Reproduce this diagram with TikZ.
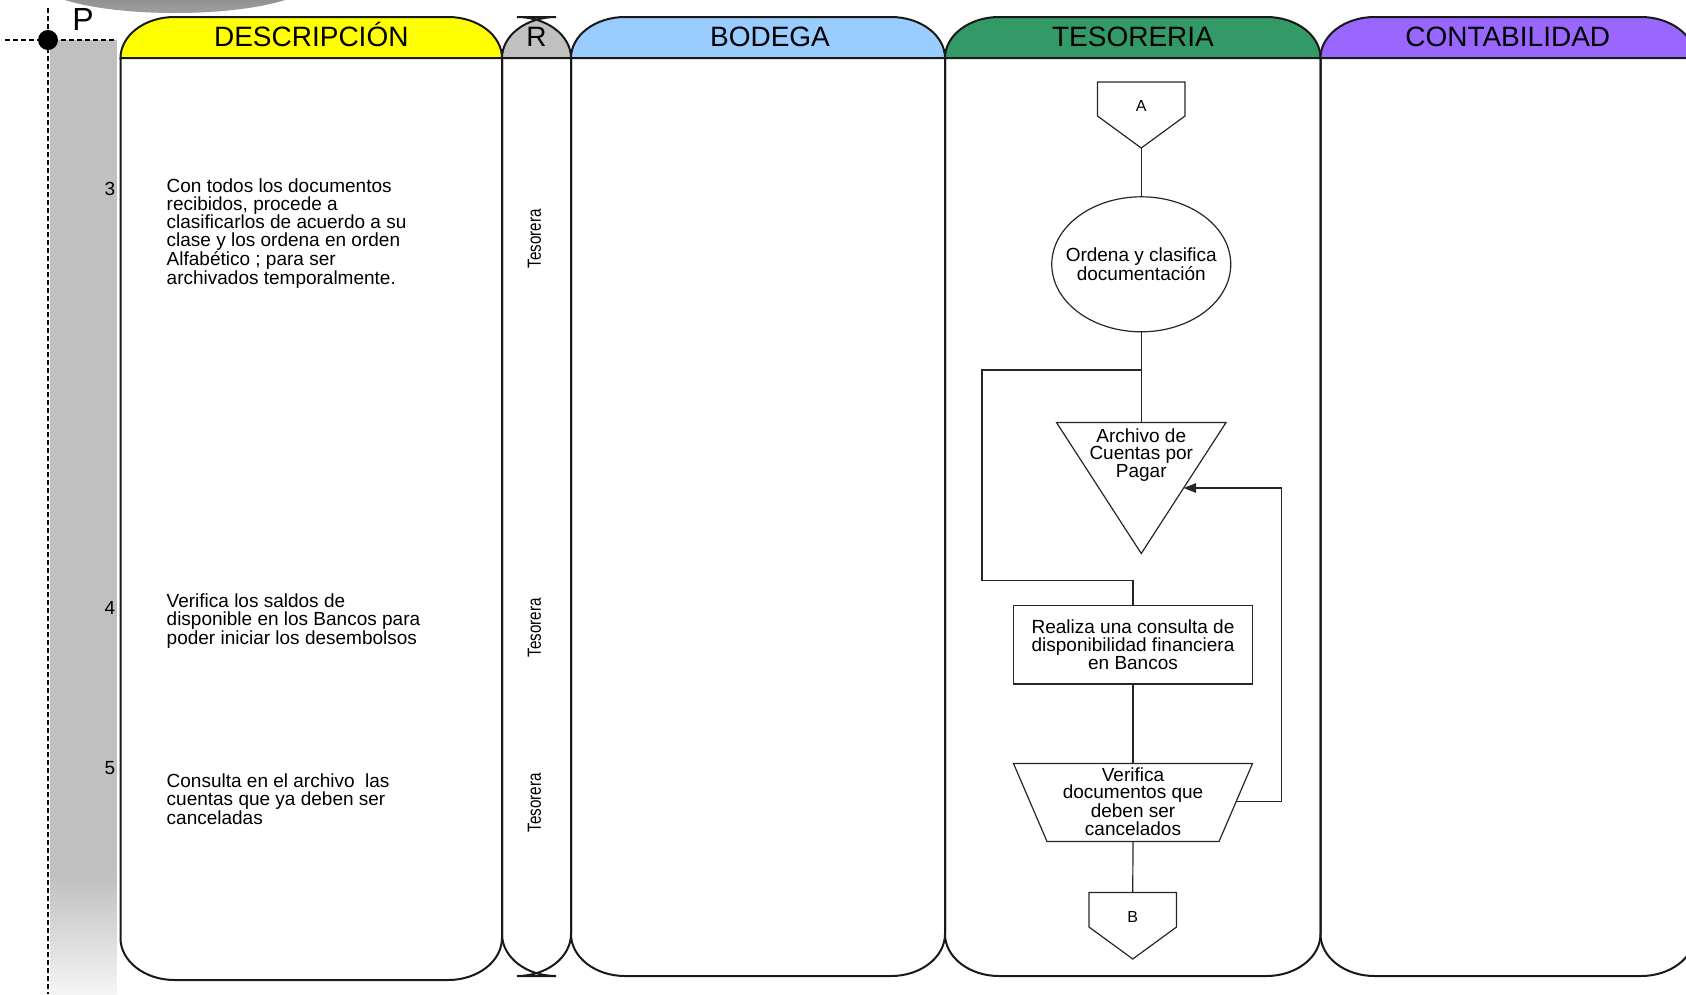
\documentclass[tikz,border=0pt]{standalone}
\usepackage{fontspec}
\setmainfont{Liberation Sans}
\newfontfamily\narrowfont[FakeStretch=0.8]{Liberation Sans}
\usetikzlibrary{arrows.meta,calc,shapes.geometric}

\definecolor{descyellow}{HTML}{FFFF00}
\definecolor{respgray}{HTML}{C0C0C0}
\definecolor{bodegablue}{HTML}{99CCFF}
\definecolor{tesorgreen}{HTML}{339966}
\definecolor{contpurple}{HTML}{9966FF}
\definecolor{bandgray}{HTML}{C0C0C0}

% A swim lane: #1 left x, #2 right x, #3 header colour, #4 bottom y.
% Header from y=17 to y=58, rounded corners 54 wide and 41/42 high.
\newcommand{\lanebox}[4]{%
  \filldraw[lane, fill=#3] (#1,58) .. controls (#1,35.4) and ({#1+24.2},17) .. ({#1+54},17)
     -- ({#2-54},17) .. controls ({#2-24.2},17) and (#2,35.4) .. (#2,58) -- cycle;
  \draw[lane] (#1,58) -- (#1,{#4-42}) .. controls (#1,{#4-18.8}) and ({#1+24.2},#4) .. ({#1+54},#4)
     -- ({#2-54},#4) .. controls ({#2-24.2},#4) and (#2,{#4-18.8}) .. (#2,{#4-42}) -- (#2,58);
}

\begin{document}
\begin{tikzpicture}[x=1pt,y=-1pt,
  lane/.style={draw=black!90, line width=2pt},
  flow/.style={draw=black!85, line width=1.2pt},
  guide/.style={draw=black, line width=1.2pt, dash pattern=on 5pt off 3pt},
  hdr/.style={font=\fontsize{28}{30}\selectfont, anchor=base, inner sep=0pt},
  desc/.style={font=\fontsize{19}{17.6}\selectfont, align=left, anchor=north west, inner sep=0pt},
  body/.style={font=\fontsize{19}{17.6}\selectfont, align=center, inner sep=0pt},
  num/.style={font=\fontsize{19}{20}\selectfont, anchor=base east, inner sep=0pt},
  role/.style={font=\narrowfont\fontsize{19}{20}\selectfont, rotate=90, inner sep=0pt},
  conn/.style={font=\fontsize{16}{18}\selectfont, anchor=base, inner sep=0pt},
]
\useasboundingbox (0,0) rectangle (1686,994);
\clip (0,0) rectangle (1686,994);

% banner edge at the very top
\shade[top color=black!60, bottom color=black!38] (175,-18) ellipse[x radius=135pt, y radius=31pt];

% step-number band on the left
\fill[bandgray] (50,40) rectangle (116.5,877);
\shade[top color=bandgray, bottom color=black!4] (50,877) rectangle (116.5,994);

% guide lines and start point
\draw[guide] (5,40) -- (116.5,40);
\draw[guide] (48,8) -- (48,994);
\node[circle, fill=black, minimum size=20pt, inner sep=0pt] (start) at (48,40) {};
\node[font=\fontsize{32}{36}\selectfont, anchor=base, inner sep=0pt] (ptag) at (83,30) {P};

% swim lanes
\lanebox{120.5}{502}{descyellow}{980}
\lanebox{502}{571}{respgray}{976}
\lanebox{571}{945}{bodegablue}{976}
\lanebox{945}{1320.5}{tesorgreen}{976}
\lanebox{1320.5}{1695}{contpurple}{976}

\node[hdr] (hdesc) at (311.3,46.5) {DESCRIPCIÓN};
\node[hdr] (hresp) at (536.5,46.5) {R};
\node[hdr] (hbod)  at (770,46.5)   {BODEGA};
\node[hdr] (htes)  at (1133,46.5)  {TESORERIA};
\node[hdr] (hcont) at (1507.7,46.5) {CONTABILIDAD};

% step numbers
\node[num] (n3) at (115.5,195) {3};
\node[num] (n4) at (115.5,614) {4};
\node[num] (n5) at (115.5,774) {5};

% step descriptions
\node[desc] (d3) at (166.5,178.6) {Con todos los documentos\\recibidos, procede a\\clasificarlos de acuerdo a su\\clase y los ordena en orden\\Alfabético ; para ser\\archivados temporalmente.};
\node[desc] (d4) at (166.5,594) {Verifica los saldos de\\disponible en los Bancos para\\poder iniciar los desembolsos};
\node[desc] (d5) at (166.5,774) {Consulta en el archivo\ \ las\\cuentas que ya deben ser\\canceladas};

% responsible
\node[role] (r3) at (534.5,239) {Tesorera};
\node[role] (r4) at (534.5,628) {Tesorera};
\node[role] (r5) at (534.5,803) {Tesorera};

% ---- Tesoreria flow ----
% off-page connector A
\draw[flow] (1097.5,82) -- (1185,82) -- (1185,116) -- (1141.25,148) -- (1097.5,116) -- cycle;
\coordinate (Atip) at (1141.25,148);
\node[conn] (offA) at (1141.25,111.5) {A};

% process
\node[flow, ellipse, minimum width=179pt, minimum height=135pt, inner sep=0pt] (ord) at (1141.25,264.3) {};
\node[body] (ordtext) at (ord.center) {Ordena y clasifica\\documentación};

% file (inverted triangle)
\draw[flow] (1056.5,422.5) -- (1226,422.5) -- (1141.25,553.5) -- cycle;
\coordinate (archTop) at (1141.25,422.5);
\coordinate (archRight) at (1183.6,488);
\node[body] (arch) at (1141.25,455) {Archivo de\\Cuentas por\\Pagar};

% bank query
\node[flow, rectangle, minimum width=239pt, minimum height=78.5pt, body] (cons) at (1133,644.75)
  {Realiza una consulta de\\disponibilidad financiera\\en Bancos};

% manual operation (trapezoid)
\draw[flow] (1013.5,763.5) -- (1252.5,763.5) -- (1219,841.5) -- (1047,841.5) -- cycle;
\coordinate (verifTop) at (1133,763.5);
\coordinate (verifBottom) at (1133,841.5);
\coordinate (verifRight) at (1236.2,801.5);
\node[body] (verif) at (1133,801.5) {Verifica\\documentos que\\deben ser\\cancelados};

% off-page connector B
\draw[flow] (1089,892.5) -- (1176.5,892.5) -- (1176.5,927) -- (1132.75,959) -- (1089,927) -- cycle;
\coordinate (Btop) at (1132.75,892.5);
\node[conn] (offB) at (1132.75,922.5) {B};

% connectors
\coordinate (split) at (1141.25,370);
\coordinate (loopL) at (982,580.5);
\coordinate (fbk) at (1281.5,801.5);
\draw[flow] (Atip) -- (ord.north);
\draw[flow] (ord.south) -- (archTop);
\draw[flow] (ord.south) -- (split) -| (loopL) -| (cons.north);
\draw[flow] (cons.south) -- (verifTop);
\draw[flow] (verifBottom) -- (Btop);
\draw[flow, -{Triangle[length=12.5pt,width=9.5pt]}] (verifRight) -- (fbk) |- (archRight);

\end{tikzpicture}
\end{document}
